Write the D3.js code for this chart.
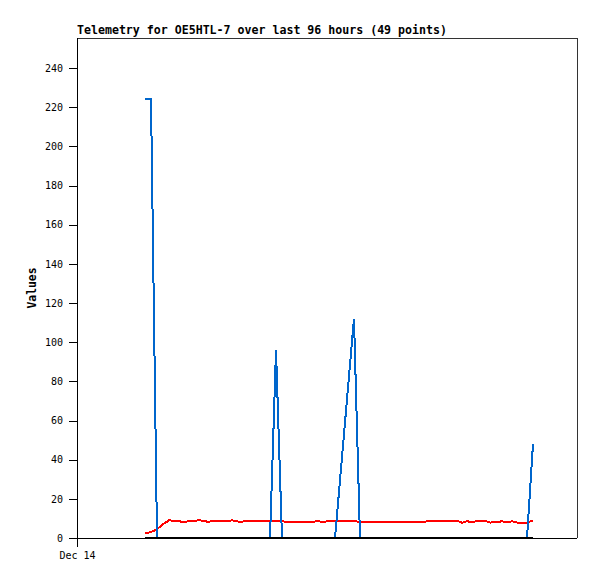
<!DOCTYPE html>
<html><head><meta charset="utf-8">
<script src="https://cdn.jsdelivr.net/npm/d3@7"></script>
<style>body{margin:0;background:#fff}svg{display:block}</style>
</head><body>
<script>
// Data: hours since Dec 14 00:00
const hours = [13.06,14.21,15.36,16.51,17.66,19.01,20.54,22.08,23.62,25.15,26.69,28.22,29.76,31.30,32.83,34.37,35.71,37.06,38.21,39.36,40.70,42.05,43.39,44.74,46.08,47.42,48.58,49.54,53.18,54.34,56.64,59.14,64.13,66.82,69.89,72.96,73.92,74.88,75.84,76.99,78.34,79.30,80.64,81.60,82.56,83.52,84.48,86.40,87.55];
const blueValues = [224,224,0,0,0,0,0,0,0,0,0,0,0,0,0,0,0,0,96,0,0,0,0,0,0,0,0,0,112,0,0,0,0,0,0,0,0,0,0,0,0,0,0,0,0,0,0,0,48];
const redValues = [2.5,3.0,4.5,7.0,9.0,8.7,8.2,8.8,9.0,8.3,8.8,8.5,9.0,8.2,8.8,8.5,8.7,8.8,8.8,8.6,8.0,8.0,8.0,8.0,8.6,8.2,8.8,8.9,8.9,8.0,8.0,8.0,8.4,8.4,8.8,8.8,7.8,8.6,8.0,8.8,8.8,7.9,8.0,8.6,7.9,8.6,7.9,7.9,8.9];
const blackValues = hours.map(() => 0);
const yTicks = [0,20,40,60,80,100,120,140,160,180,200,220,240];
const title = "Telemetry for OE5HTL-7 over last 96 hours (49 points)";
const yLabel = "Values";
const startDate = new Date(2023, 11, 14, 0, 0, 0);

const W = 597, H = 579;
const L = 77, R = 577, T = 38, B = 538;

const svg = d3.select("body").append("svg").attr("width", W).attr("height", H);

const x = d3.scaleTime().domain([startDate, d3.timeHour.offset(startDate, 96)]).range([L, R]);
const y = d3.scaleLinear().domain([0, 240]).range([B, 68]);
const tDate = h => new Date(startDate.getTime() + h * 3600000);

// frame
svg.append("path").attr("d", `M${L},${T}H${R}V${B}`).attr("fill","none").attr("stroke","#333").attr("stroke-width",1).attr("shape-rendering","crispEdges");

// y axis
const yAxis = d3.axisLeft(y).tickValues(yTicks).tickSize(8).tickPadding(6);
const gy = svg.append("g").attr("transform", `translate(${L},0)`).call(yAxis);
gy.select(".domain").attr("d", `M0,${T}V${B + 9}`).attr("stroke","#000");
gy.selectAll("line").attr("stroke","#000");
gy.selectAll("text").attr("font-family","'DejaVu Sans Mono', monospace").attr("font-size","10px").attr("fill","#000");
gy.attr("shape-rendering","crispEdges");

// x axis
const xAxis = d3.axisBottom(x).tickValues([startDate]).tickFormat(d3.timeFormat("%b %d")).tickSize(0).tickPadding(14);
const gx = svg.append("g").attr("transform", `translate(0,${B})`).call(xAxis);
gx.select(".domain").attr("d", `M${L},0.5H${R}`).attr("stroke","#000");
gx.selectAll("text").attr("font-family","'DejaVu Sans Mono', monospace").attr("font-size","10px").attr("fill","#000");
gx.attr("shape-rendering","crispEdges");

// title
svg.append("text").attr("x", L).attr("y", 34).text(title)
  .attr("font-family","'DejaVu Sans Mono', monospace").attr("font-weight","bold").attr("font-size","11.6px").attr("fill","#000");

// y label
svg.append("text").attr("transform", `translate(36,288) rotate(-90)`).attr("text-anchor","middle").text(yLabel)
  .attr("font-family","'DejaVu Sans Mono', monospace").attr("font-weight","bold").attr("font-size","11.4px").attr("fill","#000");

const mk = vals => d3.line().x((d,i) => x(tDate(hours[i]))).y(d => y(d))(vals);

svg.append("path").attr("d", mk(redValues)).attr("fill","none").attr("stroke","#ff0000").attr("stroke-width",2).attr("shape-rendering","crispEdges");
svg.append("path").attr("d", mk(blueValues)).attr("fill","none").attr("stroke","#0066cc").attr("stroke-width",2).attr("shape-rendering","crispEdges");
svg.append("path").attr("d", mk(blackValues)).attr("fill","none").attr("stroke","#000").attr("stroke-width",2.5).attr("shape-rendering","crispEdges");
</script>
</body></html>
